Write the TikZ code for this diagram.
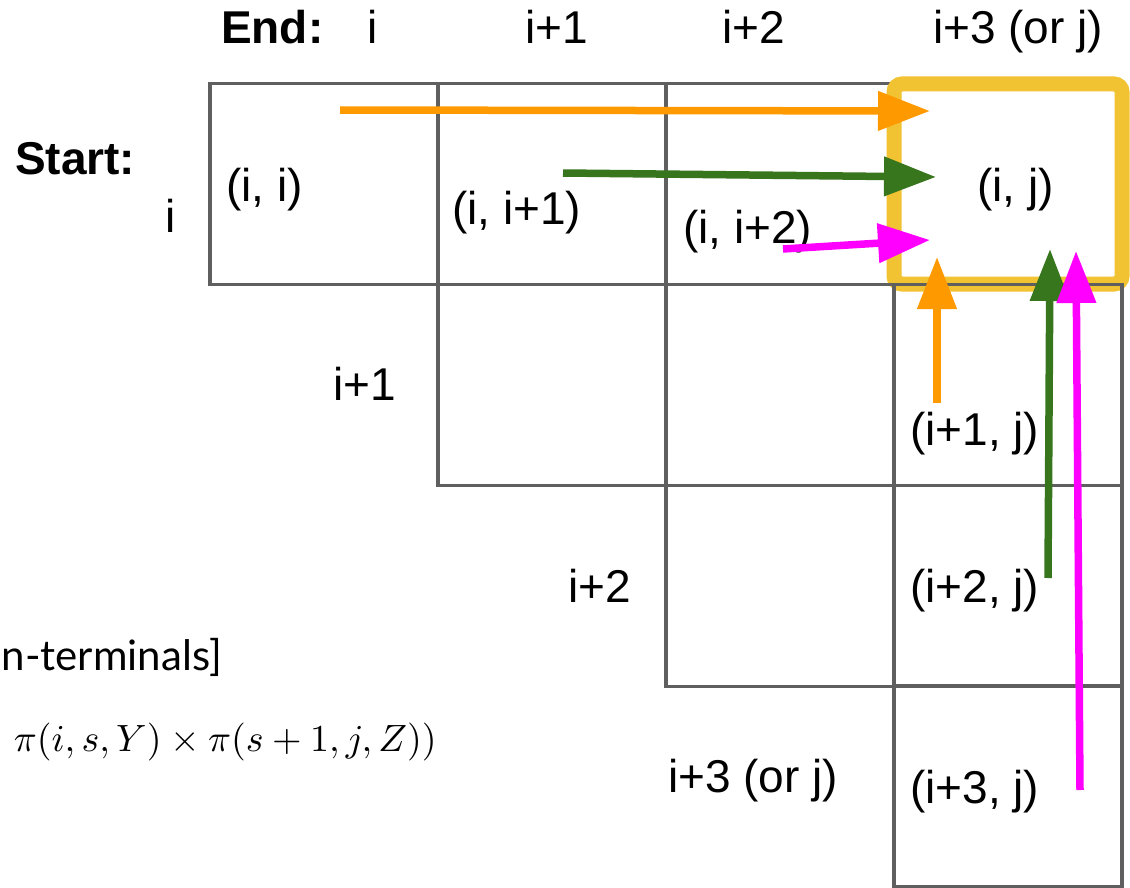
\documentclass[tikz,border=0pt]{standalone}
\usepackage{fontspec}
\setmainfont{Liberation Sans}
\newfontfamily\notefont{Lato}
\usetikzlibrary{arrows.meta}
\definecolor{gridGray}{HTML}{5F5F5F}
\definecolor{goldBox}{HTML}{F1C232}
\definecolor{arrOrange}{HTML}{FF9900}
\definecolor{arrGreen}{HTML}{38761D}
\definecolor{arrMagenta}{HTML}{FF00FF}

\begin{document}
\begin{tikzpicture}[x=1pt, y=-1pt, every node/.style={font=\fontsize{46}{55}\selectfont, inner sep=0pt},
  cellBox/.style={draw=gridGray, line width=3.5, minimum width=228, minimum height=201},
  lbl/.style={anchor=base west},
  flow/.style={line width=7.5, -{Triangle[length=52, width=38]}}]
  \clip (0,0) rectangle (1130,888);
  \fill[white] (0,0) rectangle (1130,888);
  \node[cellBox] (cellII) at (324,184) {};
  \node[cellBox] (cellIIa) at (552,184) {};
  \node[cellBox] (cellIIb) at (780,184) {};
  \node[draw=goldBox, line width=15, rounded corners=8, minimum width=228, minimum height=200] (cellIJ) at (1008,184) {};
  \node[cellBox] (cellAa) at (552,385) {};
  \node[cellBox] (cellAb) at (780,385) {};
  \node[cellBox] (cellAJ) at (1008,385) {};
  \node[cellBox] (cellBb) at (780,586) {};
  \node[cellBox] (cellBJ) at (1008,586) {};
  \node[cellBox] (cellCJ) at (1008,786) {};
  \node[lbl, font=\fontsize{46}{55}\selectfont\bfseries] (endLbl) at (221,44) {End:};
  \node[lbl] (colI) at (367,44) {i};
  \node[lbl] (colIa) at (525,44) {i+1};
  \node[lbl] (colIb) at (722,44) {i+2};
  \node[lbl] (colJ) at (933,44) {i+3 (or j)};
  \node[lbl, font=\fontsize{46}{55}\selectfont\bfseries] (startLbl) at (15,175) {Start:};
  \node[lbl] (rowI) at (165,232) {i};
  \node[lbl] (rowIa) at (333,400) {i+1};
  \node[lbl] (rowIb) at (568,602) {i+2};
  \node[lbl] (rowJ) at (668,792) {i+3 (or j)};
  \node[lbl] (txtII) at (226,201) {(i, i)};
  \node[lbl] (txtIIa) at (452,224) {(i, i+1)};
  \node[lbl] (txtIIb) at (683,243) {(i, i+2)};
  \node[lbl] (txtIJ) at (977,201) {(i, j)};
  \node[lbl] (txtAJ) at (910,445) {(i+1, j)};
  \node[lbl] (txtBJ) at (910,602) {(i+2, j)};
  \node[lbl] (txtCJ) at (910,803) {(i+3, j)};
  \node[anchor=base east, font=\notefont\fontsize{42}{50}\selectfont] (noteTerm) at (222,670) {n-terminals]};
  \node[anchor=base east, font=\normalsize] (noteRule) at (437,751) {\scalebox{3.8}{$\pi(i,s,Y)\times\pi(s+1,j,Z))$}};
  \coordinate (orH-s) at (340,110);
  \coordinate (orH-e) at (930,111);
  \coordinate (grH-s) at (563,173);
  \coordinate (grH-e) at (936,177);
  \coordinate (mgH-s) at (783,249);
  \coordinate (mgH-e) at (930,240);
  \coordinate (orV-s) at (937,403);
  \coordinate (orV-e) at (937,257);
  \coordinate (grV-s) at (1048,578);
  \coordinate (grV-e) at (1050,249);
  \coordinate (mgV-s) at (1080,790);
  \coordinate (mgV-e) at (1076,251);
  \draw[flow, arrOrange] (orH-s) -- (orH-e);
  \draw[flow, arrGreen] (grH-s) -- (grH-e);
  \draw[flow, arrMagenta] (mgH-s) -- (mgH-e);
  \draw[flow, arrOrange] (orV-s) -- (orV-e);
  \draw[flow, arrGreen] (grV-s) -- (grV-e);
  \draw[flow, arrMagenta] (mgV-s) -- (mgV-e);
\end{tikzpicture}
\end{document}
